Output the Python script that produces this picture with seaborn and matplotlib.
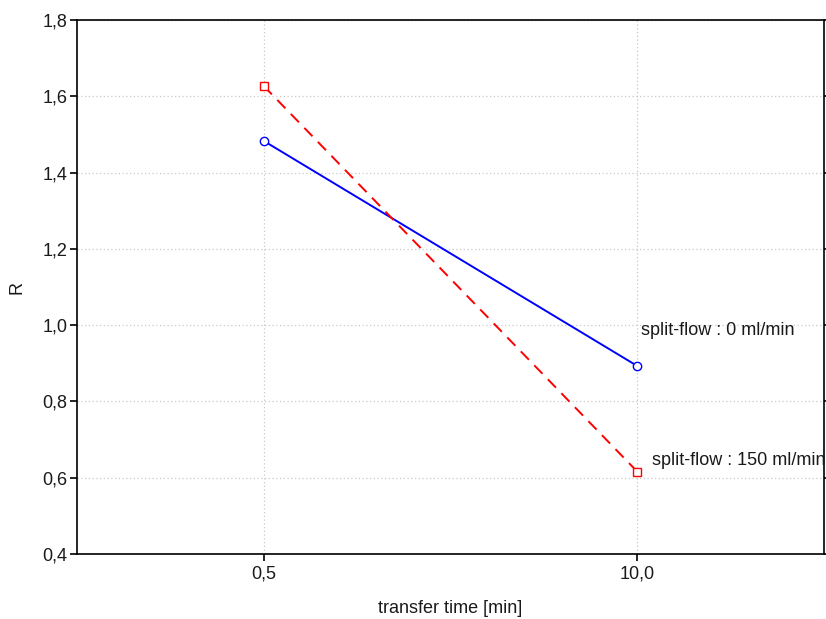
import matplotlib
matplotlib.use("Agg")
import matplotlib.pyplot as plt
import seaborn as sns
import pandas as pd
from matplotlib.ticker import FuncFormatter, MultipleLocator

categories = ["0,5", "10,0"]
r_split0 = [1.483, 0.893]
r_split150 = [1.627, 0.616]
label0 = "split-flow : 0 ml/min"
label150 = "split-flow : 150 ml/min"

sns.set_theme(style="white")
plt.rcParams['font.family'] = ['Liberation Sans', 'DejaVu Sans']

fig = plt.figure(figsize=(8.26, 6.19), dpi=100)
ax = fig.add_axes([77/826, 1-554/619, (824-77)/826, (554-20)/619])

pos = list(range(len(categories)))
df0 = pd.DataFrame({"x": pos, "R": r_split0})
df1 = pd.DataFrame({"x": pos, "R": r_split150})

sns.lineplot(data=df0, x="x", y="R", ax=ax, color="#0000ff", linewidth=1.4,
             marker="o", markersize=6, markerfacecolor="white",
             markeredgecolor="#0000ff", markeredgewidth=1.0, zorder=3)
sns.lineplot(data=df1, x="x", y="R", ax=ax, color="#ff0000", linewidth=1.4,
             linestyle=(0, (6, 4)), marker="s", markersize=6,
             markerfacecolor="white", markeredgecolor="#ff0000",
             markeredgewidth=1.0, zorder=3)

ax.set_xlim(-0.5, 1.5)
ax.set_ylim(0.4, 1.8)
ax.set_xticks(pos)
ax.set_xticklabels(categories)
ax.yaxis.set_major_locator(MultipleLocator(0.2))
ax.yaxis.set_major_formatter(FuncFormatter(lambda v, p: f"{v:.1f}".replace(".", ",")))

ax.grid(True, color="#c8c8c8", linestyle=(0, (1, 2)), linewidth=0.9)
for s in ax.spines.values():
    s.set_color("black")
    s.set_linewidth(1.2)
ax.tick_params(axis="both", which="major", direction="out", length=5, width=1.2,
               color="black", labelsize=13, labelcolor="#1a1a1a", pad=2)
ax.tick_params(axis="y", right=True, left=True)
ax.tick_params(axis="x", bottom=True, pad=3)

ax.set_xlabel("transfer time [min]", fontsize=13, labelpad=13, color="#1a1a1a")
ax.set_ylabel("R", fontsize=13, labelpad=12, color="#1a1a1a")

ax.text(1.01, 0.985, label0, fontsize=13, ha="left", va="center", color="#1a1a1a")
ax.text(1.04, 0.645, label150, fontsize=13, ha="left", va="center", color="#1a1a1a")

fig.savefig("out.png", dpi=100)
